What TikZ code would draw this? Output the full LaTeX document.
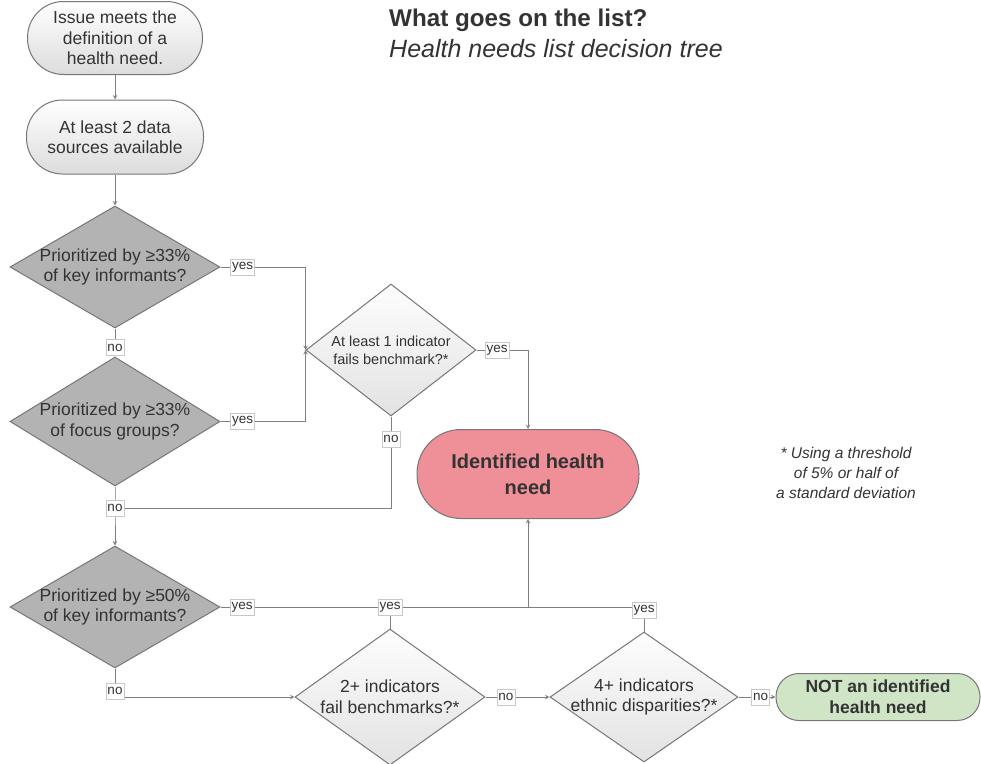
\documentclass[tikz,border=0pt]{standalone}
\usepackage{fontspec}
\setmainfont{Liberation Sans}
\usetikzlibrary{shapes.geometric}
\definecolor{linegray}{HTML}{7F7F7F}
\definecolor{edgegray}{HTML}{767676}
\definecolor{termgray}{HTML}{DCDCDC}
\definecolor{darkdiam}{HTML}{B3B3B3}
\definecolor{lightdiam}{HTML}{E2E2E2}
\definecolor{needpink}{HTML}{EF8F98}
\definecolor{notgreen}{HTML}{CFE5C6}
\definecolor{textdark}{HTML}{333333}
\definecolor{lblgray}{HTML}{C8C8C8}

\begin{document}
\begin{tikzpicture}[x=1pt,y=-1pt,>=stealth,
    line/.style={draw=linegray, line width=1pt},
    endbox/.style={draw=edgegray, line width=1pt, inner sep=0pt, align=center, text=textdark,
        font=\fontsize{17.5}{20.5}\selectfont},
    term/.style={endbox, top color=white, bottom color=termgray},
    decision/.style={diamond, draw=edgegray, line width=1pt, inner sep=0pt},
    graydec/.style={decision, fill=darkdiam},
    lightdec/.style={decision, top color=white!95!lightdiam, bottom color=lightdiam},
    dtext/.style={align=center, text=textdark, font=\fontsize{17.5}{20.7}\selectfont},
    lbl/.style={draw=lblgray, fill=white, line width=0.6pt, inner sep=1.5pt,
        minimum height=16pt, text=textdark, font=\fontsize{13.5}{14}\selectfont}]
    \useasboundingbox (0,0) rectangle (981,763);

    \node[anchor=west, inner sep=0pt, text=textdark, font=\fontsize{24.2}{28}\selectfont\bfseries] (title) at (389,20) {What goes on the list?};
    \node[anchor=west, inner sep=0pt, text=textdark, font=\fontsize{25}{28}\selectfont\itshape] (subtitle) at (389,49) {Health needs list decision tree};

    \node[term, rounded corners=36pt, minimum width=175pt, minimum height=73pt] (t1) at (115,38) {Issue meets the\\definition of a\\health need.};
    \node[term, rounded corners=36pt, minimum width=177pt, minimum height=74pt] (t2) at (115,137) {At least 2 data\\sources available};

    \node[graydec, minimum width=210pt, minimum height=122pt] (d1) at (115,267) {};
    \node[dtext] (d1t) at (d1) {Prioritized by ≥33\%\\of key informants?};
    \node[graydec, minimum width=210pt, minimum height=129pt] (d2) at (115,421.5) {};
    \node[dtext] (d2t) at (d2) {Prioritized by ≥33\%\\of focus groups?};
    \node[lightdec, minimum width=170pt, minimum height=132pt] (d3) at (391,350) {};
    \node[dtext, font=\fontsize{14.5}{18.3}\selectfont] (d3t) at (d3) {At least 1 indicator\\fails benchmark?*};
    \node[graydec, minimum width=210pt, minimum height=122pt] (d4) at (115,607) {};
    \node[dtext] (d4t) at (d4) {Prioritized by ≥50\%\\of key informants?};
    \node[lightdec, minimum width=190pt, minimum height=136pt] (d5) at (390,697) {};
    \node[dtext] (d5t) at (d5) {2+ indicators\\fail benchmarks?*};
    \node[lightdec, minimum width=188pt, minimum height=130pt] (d6) at (644,697) {};
    \node[dtext] (d6t) at (d6) {4+ indicators\\ethnic disparities?*};

    \node[endbox, fill=needpink, rounded corners=44pt, minimum width=222pt, minimum height=89pt,
        font=\fontsize{20}{26}\selectfont\bfseries] (idn) at (528,474) {Identified health\\need};
    \node[endbox, fill=notgreen, rounded corners=23pt, minimum width=204pt, minimum height=47pt,
        font=\fontsize{17.5}{21}\selectfont\bfseries] (nid) at (878,697) {NOT an identified\\health need};

    \node[align=center, text=textdark, font=\fontsize{15.5}{20}\selectfont\itshape] (note) at (846,473) {* Using a threshold\\of 5\% or half of\\a standard deviation};

    \coordinate (j1) at (115,508);
    \coordinate (j2) at (528,607);

    \draw[line,->] (t1) -- (t2);
    \draw[line,->] (t2) -- (d1);
    \draw[line,->] (d1.east) -- node[lbl,pos=0.26]{yes} (d1.east -| d3.west) -- (d3.west);
    \draw[line,->] (d2.east) -- node[lbl,pos=0.26]{yes} (d2.east -| d3.west) -- (d3.west);
    \draw[line,->] (d1.south) -- node[lbl,pos=0.68]{no} (d2.north);
    \draw[line,->] (d3.east) -- node[lbl,pos=0.4]{yes} (d3.east -| idn.north) -- (idn.north);
    \draw[line] (d3.south) -- node[lbl,pos=0.25]{no} (d3.south |- j1) -- (j1);
    \draw[line,->] (d2.south) -- (j1) node[lbl]{no} -- (d4.north);
    \draw[line,->] (d4.east) -- node[lbl,pos=0.07]{yes} (j2) -- (idn.south);
    \draw[line] (d5.north) -- (d5.north |- j2) node[lbl]{yes};
    \draw[line] (d6.north) |- node[lbl,pos=0.44]{yes} (j2);
    \draw[line,->] (d4.south) |- node[lbl,pos=0.4]{no} (d5.west);
    \draw[line,->] (d5.east) -- node[lbl,pos=0.32]{no} (d6.west);
    \draw[line,->] (d6.east) -- node[lbl,pos=0.6]{no} (nid.west);
\end{tikzpicture}
\end{document}
